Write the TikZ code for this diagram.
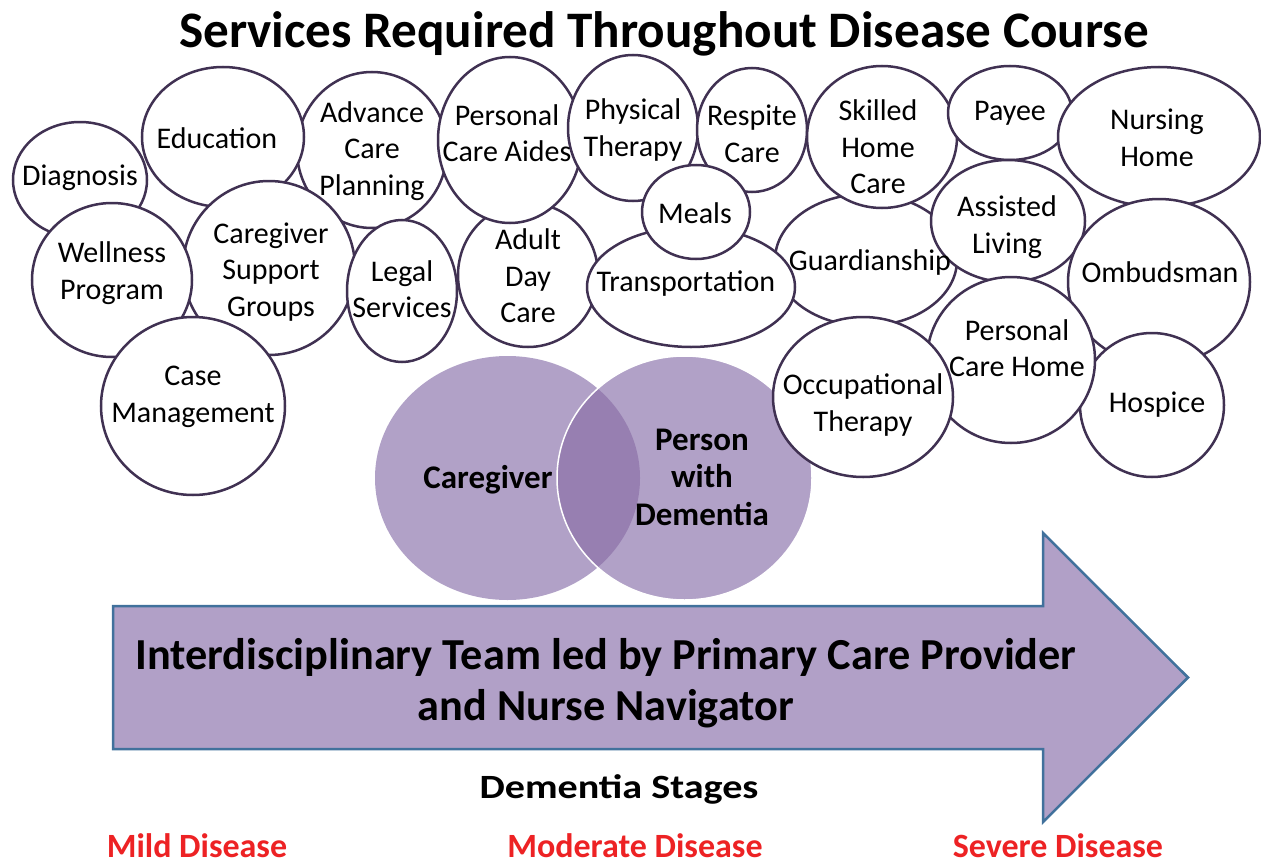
\documentclass[tikz,border=0pt]{standalone}
\usepackage{fontspec}
\setmainfont{Carlito}
\usepackage{tikz}
\usetikzlibrary{shapes.geometric}
\definecolor{bubbleline}{RGB}{64,49,82}
\definecolor{vennfill}{RGB}{177,161,199}
\definecolor{vennmid}{RGB}{151,127,177}
\definecolor{arrowfill}{RGB}{177,160,199}
\definecolor{arrowline}{RGB}{65,113,156}
\definecolor{stagered}{RGB}{237,34,36}

\begin{document}
\begin{tikzpicture}[x=1bp, y=-1bp,
  bubble/.style={ellipse, draw=bubbleline, line width=2.5bp, fill=white, inner sep=0pt},
  btext/.style={align=center, font=\fontsize{30bp}{36.6bp}\selectfont},
  venn/.style={ellipse, fill=vennfill, inner sep=0pt, minimum height=244bp},
  vtext/.style={align=center, font=\fontsize{33bp}{37.5bp}\selectfont\bfseries},
  stage/.style={anchor=base, text=stagered, font=\fontsize{34bp}{40bp}\selectfont\bfseries}]
\useasboundingbox (0,0) rectangle (1261,863);

\node[anchor=base, font=\fontsize{51.2bp}{60bp}\selectfont\bfseries] (Title) at (664,47) {Services Required Throughout Disease Course};

% caregiver and person
\node[venn, minimum width=265bp] (CG) at (507.5,478) {};
\node[venn, minimum width=255bp] (PWD) at (684.5,478) {};
\begin{scope}
\clip (CG.center) ellipse [x radius=132.5bp, y radius=122bp];
\fill[vennmid] (PWD.center) ellipse [x radius=127.5bp, y radius=122bp];
\end{scope}
\draw[white, line width=1.5bp] (PWD.center) ellipse [x radius=127.5bp, y radius=122bp];
\node[vtext, anchor=base] (CGT) at (488,488) {Caregiver};
\node[vtext] (PWDT) at (702,477) {Person\\with\\Dementia};

% services
\node[bubble, minimum width=150bp, minimum height=156bp] (Adv) at (372,150) {};
\node[bubble, minimum width=134bp, minimum height=116bp] (Diag) at (80,180) {};
\node[bubble, minimum width=162bp, minimum height=140bp] (Edu) at (223,137) {};
\node[bubble, minimum width=172bp, minimum height=174bp] (CSG) at (269,268) {};
\node[bubble, minimum width=160bp, minimum height=154bp] (Well) at (112,280) {};
\node[bubble, minimum width=110bp, minimum height=142bp] (Legal) at (402,291) {};
\node[bubble, minimum width=184bp, minimum height=178bp] (Case) at (193,406) {};
\node[bubble, minimum width=140bp, minimum height=144bp] (ADC) at (528,275) {};
\node[bubble, minimum width=144bp, minimum height=166bp] (PCA) at (510,140) {};
\node[bubble, minimum width=130bp, minimum height=146bp] (PT) at (633,128) {};
\node[bubble, minimum width=182bp, minimum height=132bp] (Guard) at (866,260) {};
\node[bubble, minimum width=110bp, minimum height=124bp] (Resp) at (752,130) {};
\node[bubble, minimum width=208bp, minimum height=120bp] (Trans) at (691,287) {};
\node[bubble, minimum width=108bp, minimum height=94bp] (Meals) at (696,212) {};
\node[bubble, minimum width=150bp, minimum height=142bp] (SHC) at (882,137) {};
\node[bubble, minimum width=124bp, minimum height=94bp] (Payee) at (1010,113) {};
\node[bubble, minimum width=202bp, minimum height=140bp] (NH) at (1159,137) {};
\node[bubble, minimum width=154bp, minimum height=122bp] (AL) at (1008,221) {};
\node[bubble, minimum width=182bp, minimum height=166bp] (Omb) at (1159,282) {};
\node[bubble, minimum width=144bp, minimum height=144bp] (Hosp) at (1152,405) {};
\node[bubble, minimum width=168bp, minimum height=166bp] (PCH) at (1011,360) {};
\node[bubble, minimum width=180bp, minimum height=160bp] (OT) at (863,397) {};

\node[btext] (DiagT) at (80,178) {Diagnosis};
\node[btext] (EduT) at (217,138) {Education};
\node[btext] (AdvT) at (372,151) {Advance\\Care\\Planning};
\node[btext] (PCAT) at (507,133) {Personal\\Care Aides};
\node[btext] (PTT) at (633,130) {Physical\\Therapy};
\node[btext] (RespT) at (752,134) {Respite\\Care};
\node[btext] (SHCT) at (878,147) {Skilled\\Home\\Care};
\node[btext] (PayeeT) at (1010,113) {Payee};
\node[btext] (NHT) at (1157,138) {Nursing\\Home};
\node[btext] (MealsT) at (695,213) {Meals};
\node[btext] (WellT) at (112,273) {Wellness\\Program};
\node[btext] (CSGT) at (271,272) {Caregiver\\Support\\Groups};
\node[btext] (LegalT) at (402,289) {Legal\\Services};
\node[btext] (ADCT) at (528,276) {Adult\\Day\\Care};
\node[btext] (TransT) at (686,284) {Transportation};
\node[btext] (GuardT) at (870,262) {Guardianship};
\node[btext] (ALT) at (1007,227) {Assisted\\Living};
\node[btext] (OmbT) at (1160,272) {Ombudsman};
\node[btext] (PCHT) at (1017,348) {Personal\\Care Home};
\node[btext] (CaseT) at (193,397) {Case\\Management};
\node[btext] (OTT) at (863,405) {Occupational\\Therapy};
\node[btext] (HospT) at (1157,405) {Hospice};

% team arrow
\draw[fill=arrowfill, draw=arrowline, line width=2.5bp, line join=miter] (113,606) -- (1043,606) -- (1043,533) -- (1188,677.5) -- (1043,822) -- (1043,749) -- (113,749) -- cycle;
\node[align=center, font=\fontsize{44.3bp}{51bp}\selectfont\bfseries] (Team) at (606,683) {Interdisciplinary Team led by Primary Care Provider\\and Nurse Navigator};

\node[anchor=base, font=\fontsize{34bp}{40bp}\selectfont\bfseries] (Stages) at (619,798) {\scalebox{1.18}[1]{Dementia Stages}};
\node[stage] (Mild) at (197,857) {Mild Disease};
\node[stage] (Moderate) at (635,857) {Moderate Disease};
\node[stage] (Severe) at (1058,857) {Severe Disease};
\end{tikzpicture}
\end{document}
